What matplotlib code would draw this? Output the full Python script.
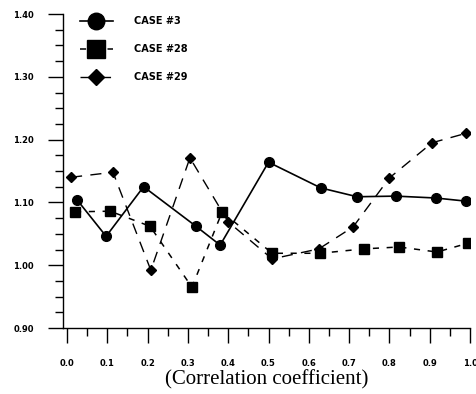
import matplotlib
matplotlib.use("Agg")
import matplotlib.pyplot as plt
from matplotlib.ticker import MultipleLocator, FixedLocator

# Data
case3_x = [0.025, 0.097, 0.19, 0.32, 0.38, 0.50, 0.63, 0.72, 0.816, 0.915, 0.99]
case3_y = [1.104, 1.046, 1.125, 1.062, 1.032, 1.164, 1.123, 1.109, 1.110, 1.107, 1.102]

case28_x = [0.02, 0.107, 0.206, 0.31, 0.385, 0.509, 0.628, 0.737, 0.824, 0.918, 0.995]
case28_y = [1.085, 1.086, 1.062, 0.965, 1.085, 1.019, 1.019, 1.026, 1.029, 1.021, 1.035]

case29_x = [0.01, 0.114, 0.208, 0.305, 0.40, 0.509, 0.625, 0.71, 0.80, 0.906, 0.99]
case29_y = [1.140, 1.148, 0.992, 1.171, 1.069, 1.010, 1.026, 1.061, 1.139, 1.195, 1.21]

x_ticks = [0.0, 0.1, 0.2, 0.3, 0.4, 0.5, 0.6, 0.7, 0.8, 0.9, 1.0]
x_tick_labels = ["0.0", "0.1", "0.2", "0.3", "0.4", "0.5", "0.6", "0.7", "0.8", "0.9", "1.0"]
y_ticks = [0.90, 1.00, 1.10, 1.20, 1.30, 1.40]
y_tick_labels = ["0.90", "1.00", "1.10", "1.20", "1.30", "1.40"]
labels = ["CASE #3", "CASE #28", "CASE #29"]
xlabel = "(Correlation coefficient)"

fig = plt.figure(figsize=(4.77, 3.94), dpi=100)
ax = fig.add_axes([63/477, 1-328/394, (470-63)/477, (328-14)/394])

l1, = ax.plot(case3_x, case3_y, color="black", lw=1.2, ls="-", marker="o", ms=7)
l2, = ax.plot(case28_x, case28_y, color="black", lw=1.1, ls=(0, (4, 5)), marker="s", ms=7.5)
l3, = ax.plot(case29_x, case29_y, color="black", lw=1.0, ls=(0, (8, 6)), marker="D", ms=5)

ax.set_xlim(-0.01, 1.0)
ax.set_ylim(0.90, 1.40)

for s in ["top", "right"]:
    ax.spines[s].set_visible(False)
ax.spines["left"].set_linewidth(1.0)
ax.spines["bottom"].set_linewidth(1.0)

ax.xaxis.set_major_locator(FixedLocator(x_ticks))
ax.set_xticklabels(x_tick_labels)
ax.xaxis.set_minor_locator(MultipleLocator(0.05))
ax.yaxis.set_major_locator(FixedLocator(y_ticks))
ax.set_yticklabels(y_tick_labels)
ax.yaxis.set_minor_locator(MultipleLocator(0.025))

ax.tick_params(axis="both", which="major", direction="out", length=11, width=1.0,
               labelsize=6, pad=10)
ax.tick_params(axis="x", which="major", pad=11)
ax.tick_params(axis="both", which="minor", direction="out", length=6, width=1.0)
for t in ax.get_xticklabels() + ax.get_yticklabels():
    t.set_fontweight("bold")

ax.set_xlabel(xlabel, family="Liberation Serif", fontsize=15, labelpad=2)

leg = ax.legend([l1, l2, l3], labels, loc="upper left", bbox_to_anchor=(0.02, 1.02),
                frameon=False, markerscale=1.7, handlelength=3.4, labelspacing=1.85,
                prop={"size": 7, "weight": "bold"}, handletextpad=2.2)

fig.savefig("out.png", dpi=100)
